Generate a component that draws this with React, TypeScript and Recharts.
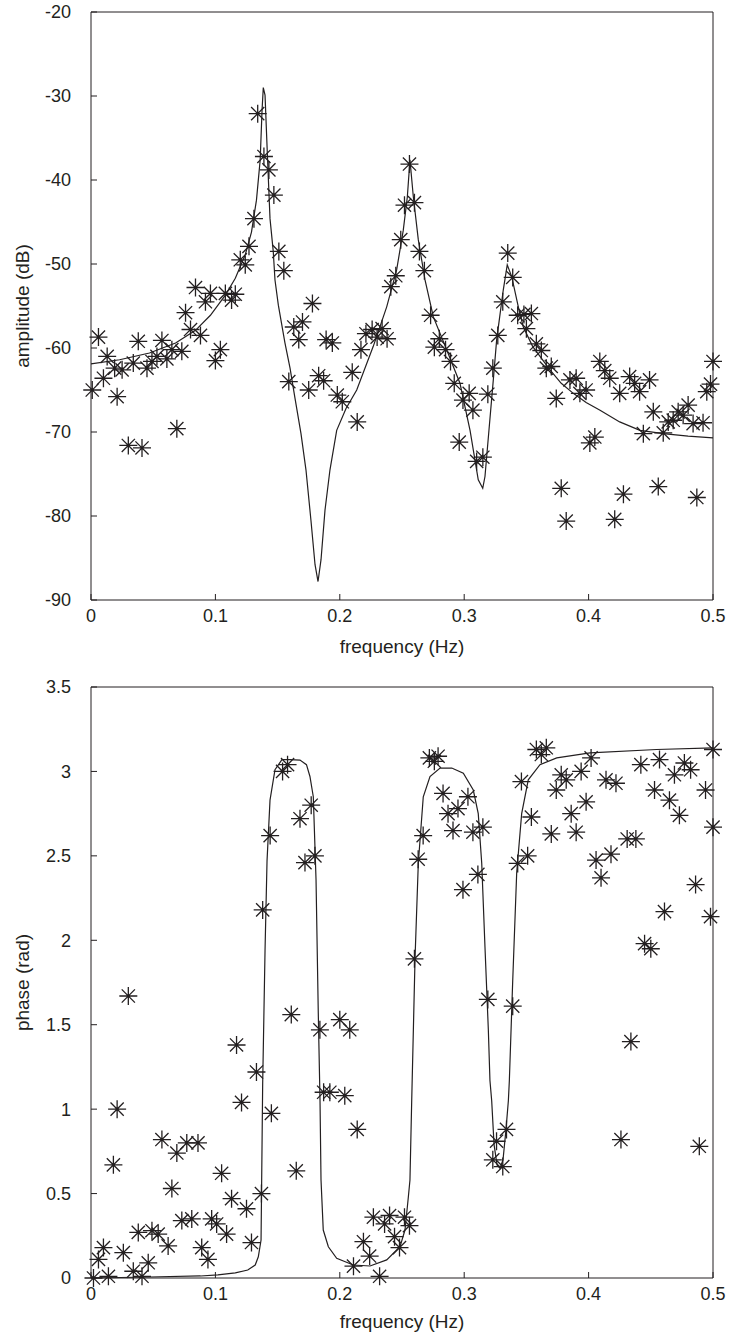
import React from 'react';
import { ScatterChart, Scatter, XAxis, YAxis, Label } from 'recharts';

const FONT = '"Liberation Sans", Arial, Helvetica, sans-serif';
const INK = '#231f20';

const xTicks = [0, 0.1, 0.2, 0.3, 0.4, 0.5];
const ampTicks = [-90, -80, -70, -60, -50, -40, -30, -20];
const phaseTicks = [0, 0.5, 1, 1.5, 2, 2.5, 3, 3.5];

// measured amplitude (stars)
const ampStarF = [
  0.001, 0.006, 0.010, 0.013, 0.019, 0.021, 0.025, 0.030, 0.034, 0.038,
  0.041, 0.045, 0.049, 0.053, 0.057, 0.061, 0.065, 0.069, 0.073, 0.076,
  0.080, 0.084, 0.088, 0.092, 0.096, 0.100, 0.104, 0.108, 0.113, 0.116,
  0.120, 0.124, 0.127, 0.131, 0.134, 0.139, 0.143, 0.147, 0.151, 0.155,
  0.159, 0.163, 0.167, 0.170, 0.175, 0.178, 0.183, 0.187, 0.189, 0.194,
  0.198, 0.202, 0.210, 0.214, 0.217, 0.221, 0.226, 0.230, 0.234, 0.238,
  0.241, 0.245, 0.249, 0.252, 0.256, 0.260, 0.264, 0.268, 0.273, 0.276,
  0.280, 0.285, 0.289, 0.292, 0.296, 0.299, 0.304, 0.307, 0.310, 0.315,
  0.319, 0.323, 0.327, 0.331, 0.335, 0.339, 0.343, 0.348, 0.350, 0.354,
  0.358, 0.362, 0.366, 0.370, 0.374, 0.378, 0.382, 0.385, 0.390, 0.393,
  0.398, 0.401, 0.405, 0.409, 0.413, 0.417, 0.421, 0.425, 0.428, 0.433,
  0.437, 0.441, 0.444, 0.449, 0.452, 0.456, 0.460, 0.464, 0.468, 0.472,
  0.476, 0.480, 0.484, 0.487, 0.492, 0.495, 0.498, 0.500,
];
const ampStarDb = [
  -65.0, -58.7, -63.6, -61.0, -62.4, -65.8, -62.6, -71.6, -61.8, -59.2,
  -71.9, -62.4, -61.6, -61.0, -59.1, -61.3, -60.2, -69.6, -60.4, -55.8,
  -57.8, -52.8, -58.5, -54.5, -53.5, -61.5, -60.2, -53.5, -54.3, -53.6,
  -49.5, -50.1, -47.9, -44.6, -32.1, -37.2, -38.8, -41.8, -48.5, -50.8,
  -64.0, -57.5, -59.0, -56.9, -65.0, -54.7, -63.3, -63.9, -59.0, -59.4,
  -65.6, -66.4, -62.9, -68.8, -60.2, -58.3, -57.8, -58.7, -57.7, -58.9,
  -52.7, -51.4, -47.1, -43.0, -38.1, -42.7, -48.5, -50.8, -56.1, -59.9,
  -58.9, -60.2, -61.6, -64.2, -71.2, -66.2, -65.4, -67.4, -73.5, -73.0,
  -65.5, -62.4, -58.5, -54.5, -48.7, -51.6, -56.1, -56.0, -57.7, -55.9,
  -59.5, -60.3, -62.4, -62.2, -66.0, -76.7, -80.6, -63.8, -63.6, -65.4,
  -65.0, -71.3, -70.6, -61.6, -62.7, -63.6, -80.4, -65.4, -77.4, -63.4,
  -64.2, -65.2, -70.2, -63.8, -67.6, -76.5, -70.1, -68.8, -68.6, -67.6,
  -68.0, -66.8, -69.0, -77.8, -68.9, -65.2, -64.3, -61.6,
];

// fitted amplitude (solid line)
const ampCurveF = [
  0.000, 0.023, 0.047, 0.068, 0.084, 0.096, 0.108, 0.116, 0.124, 0.129,
  0.133, 0.136, 0.1375, 0.1385, 0.1399, 0.1420, 0.1439, 0.1465, 0.1479, 0.1506,
  0.1559, 0.1600, 0.1640, 0.1688, 0.1728, 0.1768, 0.1801, 0.1825, 0.1849, 0.1881,
  0.1921, 0.1975, 0.205, 0.2136, 0.2269, 0.2377, 0.2457, 0.2510, 0.2543, 0.2564,
  0.2591, 0.2631, 0.2685, 0.2752, 0.2859, 0.2966, 0.3047, 0.3113, 0.3149, 0.3167,
  0.3199, 0.3234, 0.3261, 0.3314, 0.3346, 0.3382, 0.3435, 0.3475, 0.355, 0.3690,
  0.378, 0.3877, 0.398, 0.4092, 0.425, 0.4413, 0.4601, 0.480, 0.500,
];
const ampCurveDb = [
  -61.9, -61.4, -60.6, -59.4, -57.9, -56.1, -53.7, -51.7, -48.9, -46.2,
  -42.4, -37.6, -31.7, -29.0, -29.9, -37.8, -44.6, -48.5, -51.9, -54.9,
  -59.4, -62.4, -66.0, -70.2, -74.5, -80.5, -85.8, -87.8, -85.2, -79.3,
  -74.5, -69.8, -67.2, -65.0, -59.8, -55.1, -50.7, -46.0, -42.0, -37.6,
  -42.0, -47.1, -51.9, -56.3, -60.2, -64.2, -69.8, -75.7, -76.7, -75.3,
  -69.8, -63.8, -59.0, -53.1, -50.1, -51.5, -55.1, -57.5, -59.8, -62.6,
  -64.2, -65.4, -66.5, -67.4, -68.8, -69.8, -70.2, -70.5, -70.7,
];

// measured phase (stars)
const phaseStarF = [
  0.002, 0.006, 0.010, 0.014, 0.018, 0.021, 0.026, 0.030, 0.034, 0.038,
  0.041, 0.046, 0.049, 0.054, 0.057, 0.062, 0.065, 0.069, 0.073, 0.077,
  0.081, 0.086, 0.089, 0.094, 0.097, 0.101, 0.105, 0.109, 0.113, 0.117,
  0.121, 0.125, 0.129, 0.133, 0.137, 0.138, 0.144, 0.145, 0.154, 0.158,
  0.161, 0.165, 0.168, 0.172, 0.177, 0.180, 0.184, 0.187, 0.192, 0.200,
  0.204, 0.208, 0.211, 0.214, 0.219, 0.224, 0.227, 0.232, 0.236, 0.240,
  0.244, 0.248, 0.252, 0.256, 0.260, 0.263, 0.267, 0.272, 0.276, 0.279,
  0.283, 0.287, 0.291, 0.295, 0.299, 0.303, 0.307, 0.311, 0.315, 0.319,
  0.323, 0.326, 0.331, 0.334, 0.339, 0.343, 0.346, 0.351, 0.354, 0.358,
  0.362, 0.366, 0.370, 0.374, 0.378, 0.382, 0.386, 0.390, 0.394, 0.398,
  0.402, 0.406, 0.410, 0.414, 0.418, 0.422, 0.426, 0.431, 0.434, 0.438,
  0.442, 0.445, 0.450, 0.453, 0.457, 0.461, 0.465, 0.469, 0.473, 0.477,
  0.482, 0.486, 0.489, 0.494, 0.498, 0.500, 0.500,
];
const phaseStarRad = [
  0.00, 0.11, 0.18, 0.01, 0.67, 1.00, 0.15, 1.67, 0.04, 0.27,
  0.01, 0.09, 0.28, 0.26, 0.82, 0.19, 0.53, 0.74, 0.34, 0.80,
  0.35, 0.80, 0.18, 0.11, 0.35, 0.32, 0.62, 0.26, 0.47, 1.38,
  1.04, 0.41, 0.21, 1.22, 0.50, 2.18, 2.62, 0.975, 3.00, 3.04,
  1.56, 0.635, 2.72, 2.46, 2.80, 2.50, 1.47, 1.10, 1.10, 1.53,
  1.08, 1.47, 0.07, 0.88, 0.215, 0.13, 0.36, 0.01, 0.32, 0.37,
  0.245, 0.18, 0.36, 0.31, 1.89, 2.48, 2.62, 3.08, 3.06, 3.09,
  2.87, 2.75, 2.65, 2.78, 2.30, 2.85, 2.64, 2.39, 2.67, 1.65,
  0.70, 0.81, 0.66, 0.88, 1.61, 2.455, 2.94, 2.50, 2.73, 3.13,
  3.10, 3.14, 2.63, 2.89, 2.98, 2.95, 2.75, 2.64, 3.00, 2.82,
  3.08, 2.475, 2.37, 2.95, 2.51, 2.93, 0.82, 2.60, 1.40, 2.60,
  3.04, 1.98, 1.95, 2.89, 3.07, 2.17, 2.83, 2.98, 2.74, 3.05,
  3.01, 2.33, 0.78, 2.89, 2.14, 3.13, 2.67,
];

// fitted phase (solid line)
const phaseCurveF = [
  0.000, 0.047, 0.088, 0.102, 0.116, 0.126, 0.132, 0.1345, 0.1367, 0.1380,
  0.1399, 0.1415, 0.1439, 0.1479, 0.1535, 0.1600, 0.1680, 0.1732, 0.1760, 0.1787,
  0.1809, 0.1827, 0.1841, 0.1849, 0.1867, 0.1908, 0.1975, 0.2108, 0.2243, 0.2377,
  0.2484, 0.2524, 0.2551, 0.2564, 0.2578, 0.2605, 0.2631, 0.2671, 0.2725, 0.2806,
  0.2900, 0.2993, 0.3073, 0.3113, 0.3141, 0.3167, 0.3194, 0.3207, 0.3221, 0.3240,
  0.3264, 0.3288, 0.3312, 0.3336, 0.3355, 0.3363, 0.3390, 0.3422, 0.3462, 0.3515,
  0.3609, 0.3744, 0.4011, 0.4547, 0.500,
];
const phaseCurveRad = [
  0.00, 0.006, 0.012, 0.018, 0.03, 0.047, 0.077, 0.126, 0.225, 1.15,
  1.94, 2.47, 2.83, 3.01, 3.07, 3.07, 3.067, 3.04, 2.97, 2.85,
  2.357, 1.57, 1.05, 0.58, 0.284, 0.185, 0.117, 0.077, 0.071, 0.107,
  0.185, 0.284, 0.48, 0.58, 1.05, 1.90, 2.455, 2.85, 2.97, 3.02,
  3.02, 2.99, 2.89, 2.75, 2.455, 1.96, 1.47, 1.17, 1.05, 0.79,
  0.67, 0.65, 0.70, 0.88, 1.05, 1.17, 1.76, 2.40, 2.75, 2.95,
  3.04, 3.08, 3.11, 3.13, 3.14,
];

type Pt = { f: number; v: number };
const zip = (xs: number[], ys: number[]): Pt[] => xs.map((x, i) => ({ f: x, v: ys[i] }));

const ampStars = zip(ampStarF, ampStarDb);
const ampCurve = zip(ampCurveF, ampCurveDb);
const phaseStars = zip(phaseStarF, phaseStarRad);
const phaseCurve = zip(phaseCurveF, phaseCurveRad);

function Asterisk(props: any) {
  const { cx, cy } = props;
  if (cx == null || cy == null || isNaN(cx) || isNaN(cy)) return <g />;
  const r = 9;
  const d = 6.6;
  const p = `M${cx - r},${cy}H${cx + r}M${cx},${cy - r}V${cy + r}M${cx - d},${cy - d}L${cx + d},${cy + d}M${cx - d},${cy + d}L${cx + d},${cy - d}`;
  return <path d={p} stroke={INK} strokeWidth={1.3} fill="none" />;
}

const NoDot = () => <g />;

function YLabel(text: string) {
  return (props: any) => {
    const vb = props.viewBox || {};
    const cy = (vb.y || 0) + (vb.height || 0) / 2;
    return (
      <text
        x={22}
        y={cy}
        transform={`rotate(-90 22 ${cy})`}
        textAnchor="middle"
        dominantBaseline="central"
        fontFamily={FONT}
        fontSize={19}
        fill={INK}
      >
        {text}
      </text>
    );
  };
}

type PanelProps = {
  height: number;
  stars: Pt[];
  curve: Pt[];
  yDomain: [number, number];
  yTicks: number[];
  yLabel: string;
  xAxisHeight: number;
  labelOffset: number;
};

function Panel({ height, stars, curve, yDomain, yTicks, yLabel, xAxisHeight, labelOffset }: PanelProps) {
  const tickStyle = { fontSize: 18, fill: INK, fontFamily: FONT };
  const lineStyle = { stroke: INK, strokeWidth: 1 };
  return (
    <ScatterChart width={737} height={height} margin={{ top: 0, right: 0, bottom: 0, left: 0 }}>
      <XAxis
        xAxisId="b"
        orientation="bottom"
        type="number"
        dataKey="f"
        domain={[0, 0.5]}
        ticks={xTicks}
        height={xAxisHeight}
        tickSize={-6}
        tickMargin={15}
        tick={tickStyle}
        axisLine={lineStyle}
        tickLine={lineStyle}
      >
        <Label
          value="frequency (Hz)"
          position="insideBottom"
          offset={labelOffset}
          style={{ fontSize: 19, fill: INK, fontFamily: FONT }}
        />
      </XAxis>
      <XAxis
        xAxisId="t"
        orientation="top"
        type="number"
        domain={[0, 0.5]}
        ticks={xTicks}
        height={12}
        tickSize={-6}
        tickFormatter={() => ''}
        axisLine={lineStyle}
        tickLine={lineStyle}
      />
      <YAxis
        yAxisId="l"
        orientation="left"
        type="number"
        dataKey="v"
        domain={yDomain}
        ticks={yTicks}
        width={91}
        tickSize={-6}
        tickMargin={26}
        tick={tickStyle}
        axisLine={lineStyle}
        tickLine={lineStyle}
        label={{ content: YLabel(yLabel) } as any}
      />
      <YAxis
        yAxisId="r"
        orientation="right"
        type="number"
        domain={yDomain}
        ticks={yTicks}
        width={24}
        tickSize={-6}
        tickFormatter={() => ''}
        axisLine={lineStyle}
        tickLine={lineStyle}
      />
      <Scatter
        xAxisId="b"
        yAxisId="l"
        data={curve}
        line={{ stroke: INK, strokeWidth: 1.2 }}
        lineType="joint"
        shape={NoDot}
        isAnimationActive={false}
      />
      <Scatter xAxisId="b" yAxisId="l" data={stars} shape={Asterisk} isAnimationActive={false} />
    </ScatterChart>
  );
}

export default function App() {
  return (
    <div style={{ position: 'absolute', left: 0, top: 0, width: 737, height: 1344, background: '#fff' }}>
      <div style={{ position: 'absolute', left: 0, top: 0 }}>
        <Panel
          height={670}
          stars={ampStars}
          curve={ampCurve}
          yDomain={[-90, -20]}
          yTicks={ampTicks}
          yLabel="amplitude (dB)"
          xAxisHeight={70}
          labelOffset={17}
        />
      </div>
      <div style={{ position: 'absolute', left: 0, top: 675 }}>
        <Panel
          height={665}
          stars={phaseStars}
          curve={phaseCurve}
          yDomain={[0, 3.5]}
          yTicks={phaseTicks}
          yLabel="phase (rad)"
          xAxisHeight={62}
          labelOffset={12}
        />
      </div>
    </div>
  );
}
